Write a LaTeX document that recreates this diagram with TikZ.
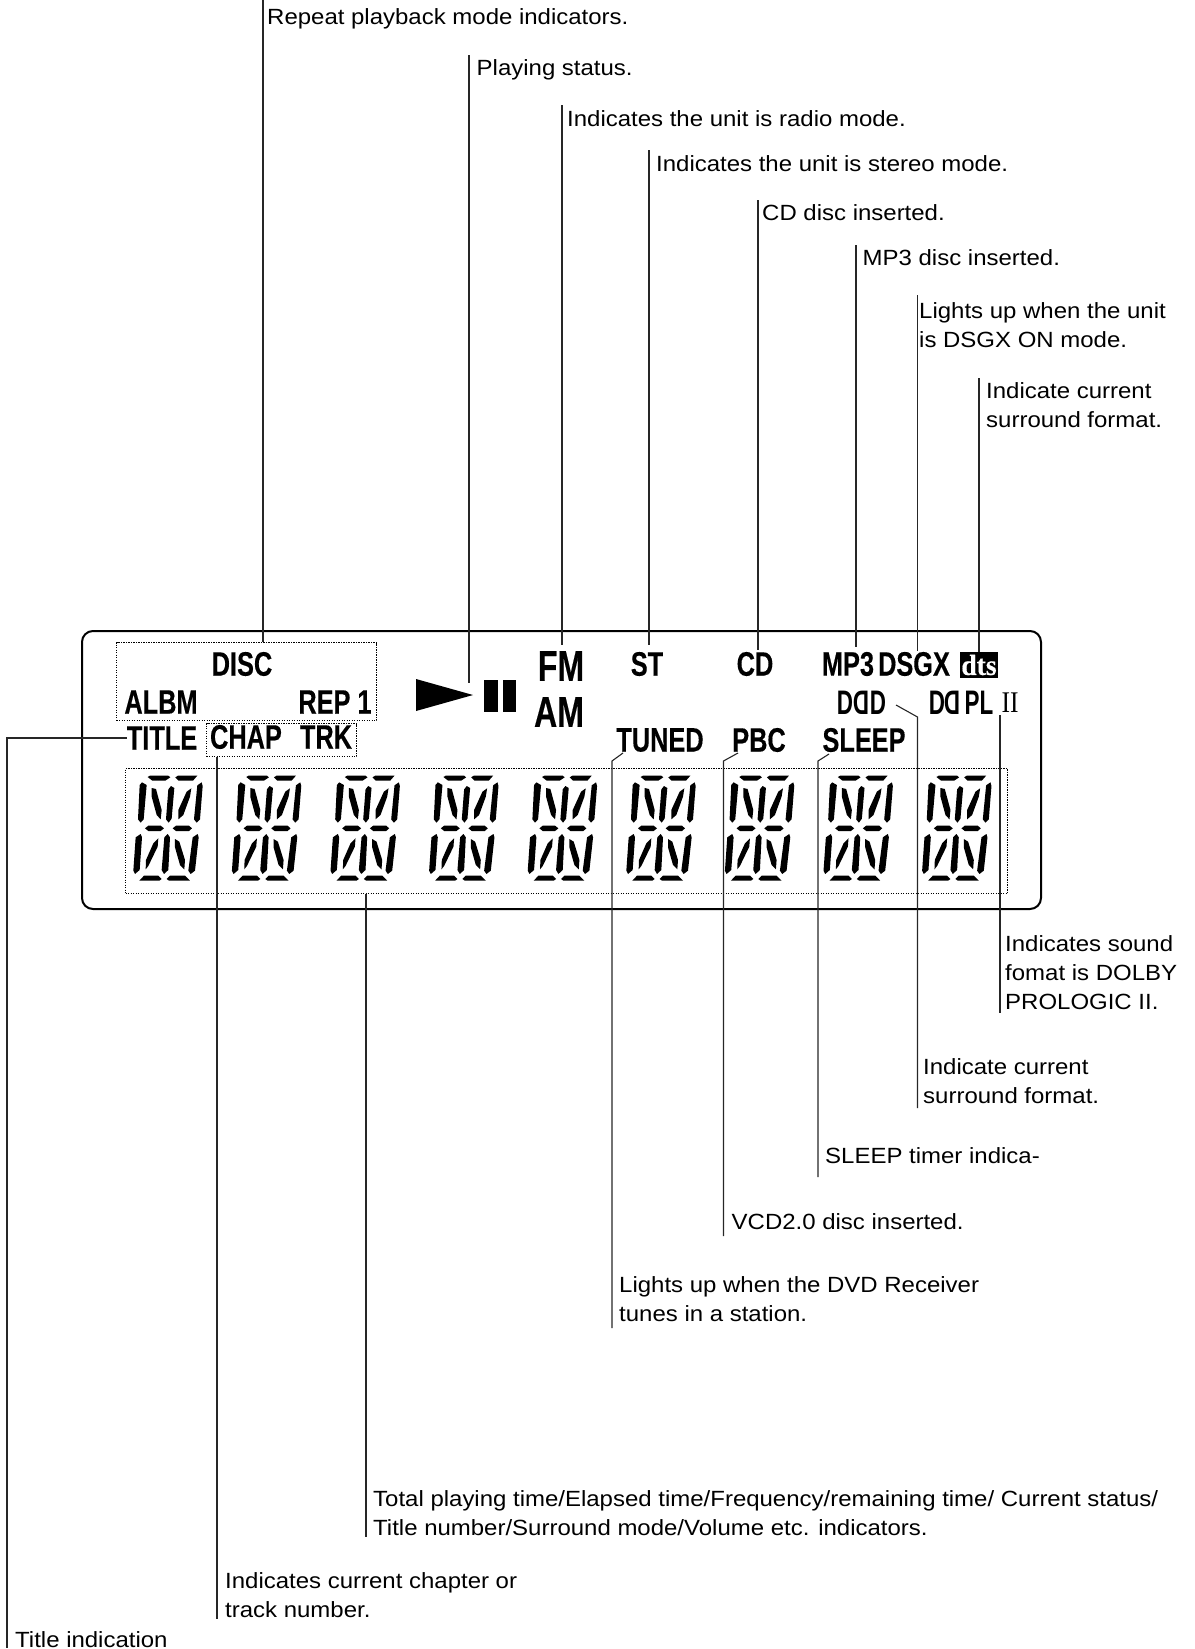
\documentclass[tikz,border=0pt]{standalone}
\usepackage{fontspec}
\setmainfont{Liberation Sans}
\newfontfamily\notefont[FakeStretch=1.09]{Liberation Sans}
\newfontfamily\lcdfont[FakeStretch=0.745,FakeBold=0.3]{Liberation Sans Bold}
\newfontfamily\logofont[FakeStretch=0.66]{Liberation Sans Bold}
\newfontfamily\romanfont[FakeStretch=0.85]{Liberation Serif}
\newfontfamily\dtsfont[FakeStretch=0.95,FakeBold=0.5]{Liberation Serif Bold}
\tikzset{
    note/.style={anchor=base west,inner sep=0pt,align=left,font=\fontsize{22}{29}\notefont},
    lcd/.style={inner sep=0pt,font=\fontsize{34}{34}\lcdfont},
    lcdbig/.style={inner sep=0pt,font=\fontsize{43}{43}\lcdfont},
    logo/.style={inner sep=0pt,font=\fontsize{34}{34}\logofont},
    dotbox/.style={draw,line width=1pt,dash pattern=on 1.1pt off 1.4pt,inner sep=0pt,anchor=north west},
    leader/.style={draw,line width=1.1pt,black!85},
    seg/.style={fill=black,draw=none}
}
\begin{document}
\begin{tikzpicture}[x=1pt,y=-1pt]
    \useasboundingbox (0,0) rectangle (1194,1649);

    % display panel
    \draw[line width=2pt,rounded corners=11pt] (82,631) rectangle (1041,909);
    \node[dotbox,minimum width=260pt,minimum height=78pt] (discbox) at (116,642) {};
    \node[dotbox,minimum width=150pt,minimum height=33pt] (chapbox) at (206,723) {};
    \node[dotbox,minimum width=882pt,minimum height=125pt] (digitbox) at (125,768) {};

    % segment digits
    \foreach \i in {0,...,8}{
        \begin{scope}[shift={(120+98.6*\i,760)},x=0.3333pt,y=-0.3333pt]
            \fill[seg] (83,51) -- (90,47) -- (145,47) -- (151,52) -- (136,62) -- (97,62) -- cycle;
            \fill[seg] (166,52) -- (174,47) -- (232,47) -- (219,62) -- (176,62) -- cycle;
            \fill[seg] (66,67) -- (80,75) -- (71,178) -- (62,188) -- (54,178) -- (59,75) -- cycle;
            \fill[seg] (95,84) -- (108,87) -- (125,150) -- (122,178) -- (110,165) -- (95,110) -- cycle;
            \fill[seg] (153,78) -- (163,84) -- (155,176) -- (146,188) -- (138,178) -- (145,88) -- cycle;
            \fill[seg] (214,85) -- (210,110) -- (190,165) -- (175,178) -- (175,150) -- (200,95) -- cycle;
            \fill[seg] (245,67) -- (248,78) -- (240,178) -- (230,188) -- (222,178) -- (232,76) -- cycle;
            \fill[seg] (75,205) -- (85,197) -- (122,197) -- (132,205) -- (122,213) -- (85,213) -- cycle;
            \fill[seg] (158,205) -- (168,197) -- (207,197) -- (216,205) -- (207,213) -- (168,213) -- cycle;
            \fill[seg] (62,222) -- (66,232) -- (59,330) -- (45,342) -- (40,332) -- (47,232) -- cycle;
            \fill[seg] (115,235) -- (113,260) -- (85,318) -- (77,328) -- (78,300) -- (100,250) -- cycle;
            \fill[seg] (143,222) -- (150,232) -- (145,330) -- (132,342) -- (125,330) -- (133,232) -- cycle;
            \fill[seg] (165,237) -- (178,245) -- (195,300) -- (193,328) -- (180,315) -- (165,262) -- cycle;
            \fill[seg] (233,222) -- (236,232) -- (225,332) -- (212,342) -- (205,332) -- (218,232) -- cycle;
            \fill[seg] (58,362) -- (72,347) -- (115,347) -- (125,357) -- (118,362) -- cycle;
            \fill[seg] (140,357) -- (150,347) -- (195,347) -- (210,362) -- (147,362) -- cycle;
        \end{scope}
    }

    % display texts
    \node[lcd] (disc) at (242,664) {DISC};
    \node[lcd] (albm) at (161,702) {ALBM};
    \node[lcd] (rep) at (335,702) {REP 1};
    \node[lcd] (title) at (162,738) {TITLE};
    \node[lcd] (chap) at (246,737) {CHAP};
    \node[lcd] (trk) at (326,737) {TRK};
    \node[lcdbig] (fm) at (561,666) {FM};
    \node[lcdbig] (am) at (559,712) {AM};
    \node[lcd] (st) at (647,664) {ST};
    \node[lcd] (cd) at (755,664) {CD};
    \node[lcd] (mpthree) at (848,664) {MP3};
    \node[lcd] (dsgx) at (914,664) {DSGX};
    \node[lcd] (tuned) at (660,740) {TUNED};
    \node[lcd] (pbc) at (759,740) {PBC};
    \node[lcd] (sleep) at (864,740) {SLEEP};
    \node[fill=black,text=white,inner sep=0pt,minimum width=38pt,minimum height=26pt,font=\fontsize{29}{29}\dtsfont] (dts) at (979,665) {dts};
    \node[logo] (dda) at (845,703) {D};
    \node[logo,xscale=-1] (ddb) at (861,703) {D};
    \node[logo] (ddc) at (878,703) {D};
    \node[logo] (pla) at (937,703) {D};
    \node[logo,xscale=-1] (plb) at (952,703) {D};
    \node[logo] (pl) at (979,703) {PL};
    \node[inner sep=0pt,font=\fontsize{30}{30}\romanfont] (two) at (1010,703) {II};
    \fill (416,679) -- (473,695) -- (416,711) -- cycle;
    \fill (484,680) rectangle (498,712);
    \fill (503,680) rectangle (516,712);

    % notes
    \node[note] (repeatnote) at (267,24) {Repeat playback mode indicators.};
    \node[note] (playnote) at (476.5,75) {Playing status.};
    \node[note] (radionote) at (567,126.5) {Indicates the unit is radio mode.};
    \node[note] (stereonote) at (656,171) {Indicates the unit is stereo mode.};
    \node[note] (cdnote) at (762,220.5) {CD disc inserted.};
    \node[note] (mpnote) at (862.5,265) {MP3 disc inserted.};
    \node[note] (dsgxnote) at (919,347) {Lights up when the unit\\is DSGX ON mode.};
    \node[note] (dtsnote) at (986,427) {Indicate current\\surround format.};
    \node[note] (iinote) at (1005,1009) {Indicates sound\\fomat is DOLBY\\PROLOGIC II.};
    \node[note] (dddnote) at (923,1103) {Indicate current\\surround format.};
    \node[note] (sleepnote) at (825,1163) {SLEEP timer indica-};
    \node[note] (pbcnote) at (731.5,1229.5) {VCD2.0 disc inserted.};
    \node[note] (tunednote) at (619,1321) {Lights up when the DVD Receiver\\tunes in a station.};
    \node[note] (totalnote) at (373,1535) {Total playing time/Elapsed time/Frequency/remaining time/ Current status/\\Title number/Surround mode/Volume etc. indicators.};
    \node[note] (chapnote) at (225,1617) {Indicates current chapter or\\track number.};
    \node[note] (titlenote) at (15,1647) {Title indication};

    % leaders
    \coordinate (repeattop) at (263,0);
    \coordinate (playtop) at (469,55);
    \coordinate (playend) at (469,683);
    \coordinate (radiotop) at (562,105);
    \coordinate (radioend) at (562,645);
    \coordinate (stereotop) at (649,150);
    \coordinate (stereoend) at (649,645);
    \coordinate (cdtop) at (758,200);
    \coordinate (cdend) at (758,650);
    \coordinate (mptop) at (856,245);
    \coordinate (mpend) at (856,647);
    \coordinate (dsgxtop) at (917.5,295);
    \coordinate (dsgxend) at (917.5,651);
    \coordinate (dtstop) at (979,378);
    \draw[leader] (repeattop) -- (repeattop |- discbox.north);
    \draw[leader] (playtop) -- (playend);
    \draw[leader] (radiotop) -- (radioend);
    \draw[leader] (stereotop) -- (stereoend);
    \draw[leader] (cdtop) -- (cdend);
    \draw[leader] (mptop) -- (mpend);
    \draw[leader] (dsgxtop) -- (dsgxend);
    \draw[leader] (dtstop) -- (dtstop |- dts.north);

    \coordinate (iiend) at (1000,1013);
    \coordinate (iitop) at (1000,715);
    \coordinate (dddend) at (917.5,1108);
    \coordinate (dddbend) at (917.5,717);
    \coordinate (dddtip) at (896,705);
    \coordinate (sleepend) at (818,1177);
    \coordinate (sleepbend) at (818,761);
    \coordinate (sleeptip) at (829,754);
    \coordinate (pbcend) at (723.5,1236);
    \coordinate (pbcbend) at (723.5,761);
    \coordinate (pbctip) at (738,753);
    \coordinate (tunedend) at (612,1328);
    \coordinate (tunedbend) at (612,761);
    \coordinate (tunedtip) at (623,753);
    \draw[leader] (iitop) -- (iiend);
    \draw[leader] (dddtip) -- (dddbend) -- (dddend);
    \draw[leader] (sleeptip) -- (sleepbend) -- (sleepend);
    \draw[leader] (pbctip) -- (pbcbend) -- (pbcend);
    \draw[leader] (tunedtip) -- (tunedbend) -- (tunedend);

    \coordinate (totalend) at (366,1537);
    \coordinate (chapend) at (217,1619);
    \coordinate (titleend) at (7,1648);
    \draw[leader] (totalend |- digitbox.south) -- (totalend);
    \draw[leader] (chapend |- chapbox.south) -- (chapend);
    \draw[leader] (title.west) -- (titleend |- title.west) -- (titleend);
\end{tikzpicture}
\end{document}
